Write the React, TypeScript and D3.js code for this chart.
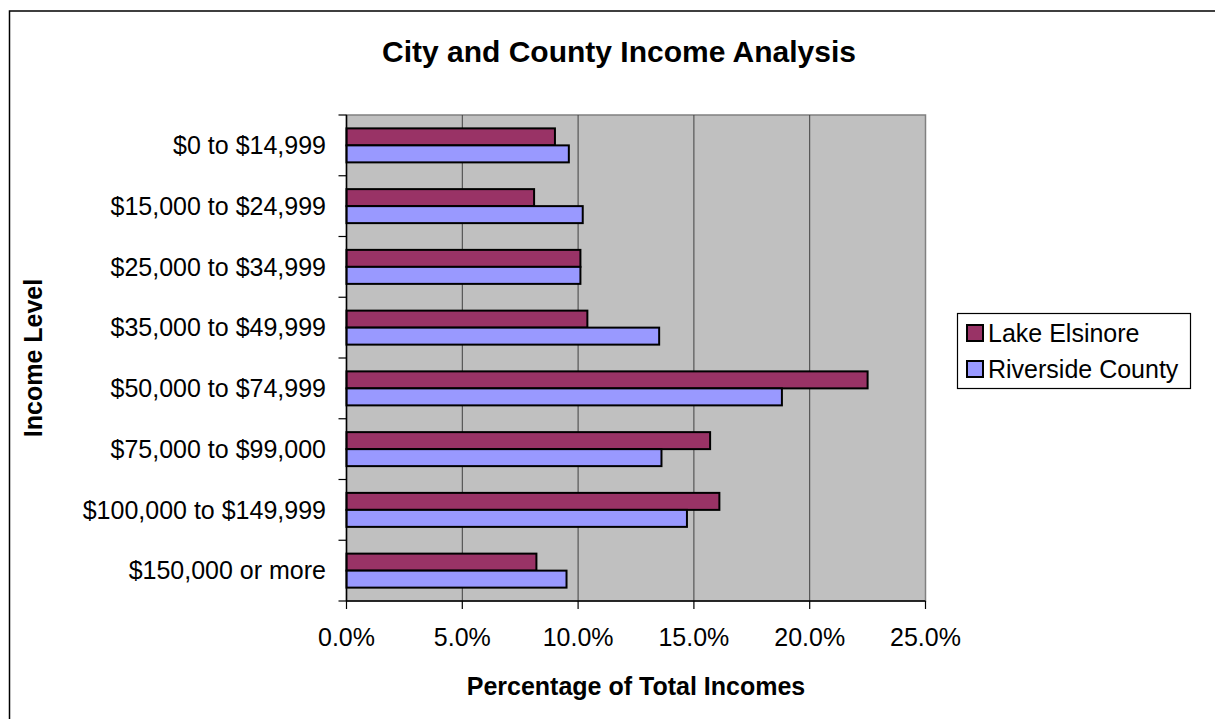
import React from "react";
import * as d3 from "d3";

const categories = [
  "$0 to $14,999",
  "$15,000 to $24,999",
  "$25,000 to $34,999",
  "$35,000 to $49,999",
  "$50,000 to $74,999",
  "$75,000 to $99,000",
  "$100,000 to $149,999",
  "$150,000 or more",
];
const lakeElsinore = [9.0, 8.1, 10.1, 10.4, 22.5, 15.7, 16.1, 8.2];
const riversideCounty = [9.6, 10.2, 10.1, 13.5, 18.8, 13.6, 14.7, 9.5];
const xTicks = [0, 5, 10, 15, 20, 25];
const seriesNames = ["Lake Elsinore", "Riverside County"];
const seriesColors = ["#993366", "#9999FF"];

const W = 1215;
const H = 719;
const plot = { left: 346.5, right: 925.5, top: 115, bottom: 601 };
const FONT = "'Liberation Sans', Arial, sans-serif";

export default function App() {
  const x = d3.scaleLinear().domain([0, 25]).range([plot.left, plot.right]);
  const y = d3.scaleBand<string>().domain(categories).range([plot.top, plot.bottom]).padding(0);
  const bw = y.bandwidth();
  const barH = 17;
  const series = [lakeElsinore, riversideCounty];
  const fmt = d3.format(".1f");

  return (
    <svg
      width={W}
      height={H}
      style={{ position: "absolute", left: 0, top: 0, background: "#fff" }}
      fontFamily={FONT}
    >
      <rect x={9.5} y={11} width={1300} height={800} fill="#fff" stroke="#000" strokeWidth={1.5} />
      <text x={619} y={62} textAnchor="middle" fontSize={30} fontWeight="bold">
        City and County Income Analysis
      </text>

      {/* plot area */}
      <rect
        x={plot.left}
        y={plot.top}
        width={plot.right - plot.left}
        height={plot.bottom - plot.top}
        fill="#C0C0C0"
        stroke="#808080"
        strokeWidth={1.5}
      />
      {xTicks.slice(1, -1).map((t) => (
        <line key={t} x1={x(t)} x2={x(t)} y1={plot.top} y2={plot.bottom} stroke="#404040" strokeWidth={1} />
      ))}

      {/* bars */}
      {categories.map((c, i) => {
        const y0 = (y(c) as number) + bw / 2 - barH;
        return (
          <g key={c}>
            {series.map((s, j) => (
              <rect
                key={j}
                x={x(0)}
                y={y0 + j * barH}
                width={x(s[i]) - x(0)}
                height={barH}
                fill={seriesColors[j]}
                stroke="#000"
                strokeWidth={2}
              />
            ))}
          </g>
        );
      })}

      {/* axes */}
      <line x1={plot.left} x2={plot.left} y1={plot.top} y2={plot.bottom} stroke="#000" strokeWidth={1.5} />
      <line x1={plot.left} x2={plot.right} y1={plot.bottom} y2={plot.bottom} stroke="#000" strokeWidth={1.5} />
      {categories.map((c) => (
        <line key={"t" + c} x1={plot.left - 8} x2={plot.left} y1={y(c) as number} y2={y(c) as number} stroke="#000" strokeWidth={1.2} />
      ))}
      <line x1={plot.left - 8} x2={plot.left} y1={plot.bottom} y2={plot.bottom} stroke="#000" strokeWidth={1.2} />
      {xTicks.map((t) => (
        <line key={"xt" + t} x1={x(t)} x2={x(t)} y1={plot.bottom} y2={plot.bottom + 8} stroke="#000" strokeWidth={1.2} />
      ))}

      {categories.map((c) => (
        <text
          key={"l" + c}
          x={326}
          y={(y(c) as number) + bw / 2}
          dy="0.35em"
          textAnchor="end"
          fontSize={25}
        >
          {c}
        </text>
      ))}
      {xTicks.map((t) => (
        <text key={"xl" + t} x={x(t)} y={646} textAnchor="middle" fontSize={25}>
          {fmt(t)}%
        </text>
      ))}

      <text x={636} y={695} textAnchor="middle" fontSize={25} fontWeight="bold">
        Percentage of Total Incomes
      </text>
      <text
        transform={`translate(42,${(plot.top + plot.bottom) / 2}) rotate(-90)`}
        textAnchor="middle"
        fontSize={25}
        fontWeight="bold"
      >
        Income Level
      </text>

      {/* legend */}
      <rect x={957.5} y={313.5} width={233} height={75} fill="#fff" stroke="#000" strokeWidth={1.2} />
      {seriesNames.map((n, j) => (
        <g key={n}>
          <rect x={967} y={325 + j * 36} width={16} height={16} fill={seriesColors[j]} stroke="#000" strokeWidth={2} />
          <text x={988} y={342 + j * 36} fontSize={25}>
            {n}
          </text>
        </g>
      ))}
    </svg>
  );
}
